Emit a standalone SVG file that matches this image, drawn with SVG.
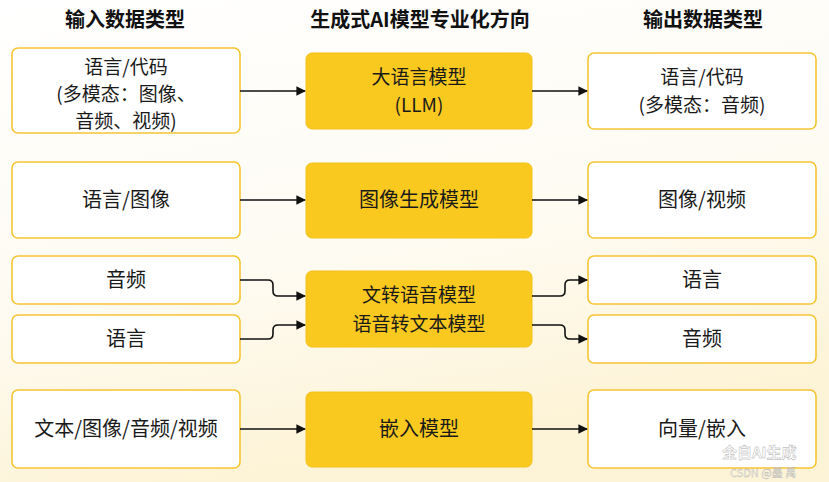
<svg xmlns="http://www.w3.org/2000/svg" width="829" height="482" viewBox="0 0 829 482">
<defs>
<linearGradient id="bg" x1="0" y1="0" x2="0.3" y2="1">
<stop offset="0" stop-color="#FFFFFF"/><stop offset="0.6" stop-color="#FEFBF2"/><stop offset="1" stop-color="#FDF3D6"/>
</linearGradient>
<marker id="ah" viewBox="0 0 10 10" refX="9" refY="5" markerWidth="6" markerHeight="6" orient="auto"><path d="M0,0 L10,5 L0,10 z" fill="#111"/></marker>
<style>
.io{fill:#FFFFFF;stroke:#F6C433;stroke-width:1.6}
.md{fill:#F9C920;stroke:#F3C21A;stroke-width:1}
.t{font-family:"Noto Sans CJK SC","Noto Sans",sans-serif;font-size:20px;fill:#1A1A1A;text-anchor:middle}
.s{font-size:19px}
.h{font-family:"Noto Sans CJK SC","Noto Sans",sans-serif;font-size:20px;font-weight:bold;fill:#111;text-anchor:middle}
.c{fill:none;stroke:#111;stroke-width:1.6;marker-end:url(#ah)}
</style>
</defs>
<rect width="829" height="482" fill="url(#bg)"/>
<g id="headers">
<text class="h" x="125" y="27">输入数据类型</text>
<text class="h" x="420" y="27">生成式AI模型专业化方向</text>
<text class="h" x="703" y="27">输出数据类型</text>
</g>
<g id="in1"><rect class="io" x="12" y="48" width="228" height="85" rx="6"/><text class="t s" x="126" y="74">语言/代码</text><text class="t s" x="126" y="101">(多模态：图像、</text><text class="t s" x="126" y="128">音频、视频)</text></g>
<g id="in2"><rect class="io" x="12" y="162" width="228" height="76" rx="6"/><text class="t" x="126" y="207">语言/图像</text></g>
<g id="in3a"><rect class="io" x="12" y="256" width="228" height="48" rx="6"/><text class="t" x="126" y="287">音频</text></g>
<g id="in3b"><rect class="io" x="12" y="315" width="228" height="48" rx="6"/><text class="t" x="126" y="346">语言</text></g>
<g id="in4"><rect class="io" x="12" y="390" width="228" height="78" rx="6"/><text class="t" x="126" y="436">文本/图像/音频/视频</text></g>
<g id="m1"><rect class="md" x="306" y="53" width="226" height="76" rx="6"/><text class="t s" x="419" y="84">大语言模型</text><text class="t s" x="419" y="112">(LLM)</text></g>
<g id="m2"><rect class="md" x="306" y="163" width="226" height="75" rx="6"/><text class="t" x="419" y="207">图像生成模型</text></g>
<g id="m3"><rect class="md" x="306" y="271" width="226" height="76" rx="6"/><text class="t s" x="419" y="302">文转语音模型</text><text class="t s" x="419" y="331">语音转文本模型</text></g>
<g id="m4"><rect class="md" x="306" y="392" width="226" height="75" rx="6"/><text class="t" x="419" y="436">嵌入模型</text></g>
<g id="out1"><rect class="io" x="588" y="53" width="228" height="76" rx="6"/><text class="t s" x="702" y="84">语言/代码</text><text class="t s" x="702" y="112">(多模态：音频)</text></g>
<g id="out2"><rect class="io" x="588" y="162" width="228" height="76" rx="6"/><text class="t" x="702" y="207">图像/视频</text></g>
<g id="out3a"><rect class="io" x="588" y="256" width="228" height="48" rx="6"/><text class="t" x="702" y="287">语言</text></g>
<g id="out3b"><rect class="io" x="588" y="315" width="228" height="48" rx="6"/><text class="t" x="702" y="346">音频</text></g>
<g id="out4"><rect class="io" x="588" y="390" width="228" height="78" rx="6"/><text class="t" x="702" y="436">向量/嵌入</text></g>
<g id="connectors">
<path class="c" d="M240,91 L305,91"/>
<path class="c" d="M532,91 L587,91"/>
<path class="c" d="M240,200 L305,200"/>
<path class="c" d="M532,200 L587,200"/>
<path class="c" d="M240,280 L268,280 Q273,280 273,285 L273,291 Q273,296 278,296 L305,296"/>
<path class="c" d="M240,339 L268,339 Q273,339 273,334 L273,330 Q273,325 278,325 L305,325"/>
<path class="c" d="M532,296 L560,296 Q565,296 565,291 L565,285 Q565,280 570,280 L587,280"/>
<path class="c" d="M532,325 L560,325 Q565,325 565,330 L565,334 Q565,339 570,339 L587,339"/>
<path class="c" d="M240,429 L305,429"/>
<path class="c" d="M532,429 L587,429"/>
</g>
<g id="watermark" font-family="Noto Sans CJK SC,sans-serif" fill="#FFFFFF" opacity="0.85">
<text x="722" y="458" font-size="15" font-weight="bold" stroke="#999" stroke-width="0.4">全自AI生成</text>
<text x="730" y="477" font-size="11" fill="#EEE" stroke="#aaa" stroke-width="0.3">CSDN @墨 禹</text>
</g>
</svg>
